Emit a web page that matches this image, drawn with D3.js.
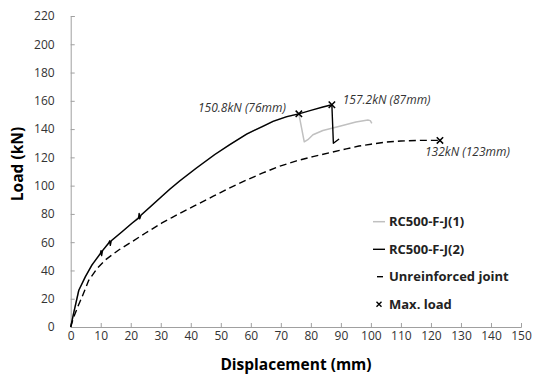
<!DOCTYPE html>
<html><head><meta charset="utf-8">
<script src="https://cdn.jsdelivr.net/npm/d3@7"></script>
<style>
html,body{margin:0;padding:0;background:#fff;}
svg{display:block;font-family:"Open Sans","Noto Sans",sans-serif;}
</style></head>
<body><svg id="c" width="534" height="379"></svg>
<script>
// Data (displacement mm, load kN)
const specimen1 = [[0,0],[1,10],[2.7,26],[4.9,35.6],[7.1,43.9],[9.9,52],[12.6,59.2],[17.1,67.4],[20.4,73.4],[23,78.5],[27,86],[30.4,92.5],[33,97.5],[36.4,103.5],[41.9,112.5],[48,122],[53,129],[58.6,136.5],[64,142],[67.4,145.5],[72,148.8],[76,150.8],
  [77.8,131],[79,132.5],[80.7,136],[84,139],[89.6,142],[95,145],[99,146.4],[99.8,146],[100.3,144]];
const specimen2 = [[0,0],[1,10],[2.7,26],[4.9,35.6],[7.1,43.9],[9.9,52],[10.1,54],[10.3,50.5],[10.6,54],[12.6,59.2],[13,61],[13.2,57.8],[13.5,61],[17.1,67.4],[20.4,73.4],[22.6,77],[22.8,80.4],[23,76.5],[23.4,79],[27,86],[30.4,92.5],[33,97.5],[36.4,103.5],[41.9,112.5],[48,122],[53,129],[58.6,136.5],[64,142],[67.4,145.5],[72,148.8],[76,150.8],[80,153.2],[84,155.6],[87,157.2],[87.5,130],[89.4,133]];
const unreinforced = [[0,0],[1,7],[2.5,15],[3.8,21.4],[6,33],[8.8,41.5],[11.5,47.4],[16,54.5],[20.4,60.3],[24.8,66.3],[30.4,73.6],[33.7,77.4],[36.4,80.5],[41,85.5],[47.5,92.5],[53,98.5],[58.6,104],[64,109],[69.7,113.8],[75.2,117.5],[80.7,120.5],[86.3,123.3],[91.8,126],[96,128],[100,129.3],[105,130.8],[110,131.6],[116,132],[123,132]];
const maxPoints = [[76,150.8],[87,157.2],[123,132]];
const maxLabels = ["150.8kN (76mm)","157.2kN (87mm)","132kN (123mm)"];
const xTicks = d3.range(0,151,10);
const yTicks = d3.range(0,221,20);
const legendNames = ["RC500-F-J(1)","RC500-F-J(2)","Unreinforced joint","Max. load"];

const svg = d3.select("#c");
const x = d3.scaleLinear().domain([0,150]).range([70.7,521]);
const y = d3.scaleLinear().domain([0,220]).range([327,16]);

const axisColor = "#a0a0a0", textColor = "#333";

const gx = svg.append("g").attr("transform","translate(0,327)")
  .call(d3.axisBottom(x).tickValues(xTicks).tickSize(-4).tickPadding(4).tickFormat(d3.format("d")));
const gy = svg.append("g").attr("transform","translate(70.7,0)")
  .call(d3.axisLeft(y).tickValues(yTicks).tickSize(-4).tickPadding(16).tickFormat(d3.format("d")));
[gx,gy].forEach(g=>{
  g.select(".domain").attr("stroke",axisColor).attr("stroke-width",1);
  g.selectAll(".tick line").attr("stroke",axisColor);
  g.selectAll(".tick text").attr("fill",textColor).style("font-size","12px").style("font-family","'Open Sans',sans-serif");
});

const line = d3.line().x(d=>x(d[0])).y(d=>y(d[1]));
svg.append("path").datum(specimen1).attr("d",line).attr("fill","none").attr("stroke","#c0c0c0").attr("stroke-width",1.5).attr("stroke-linejoin","round");
svg.append("path").datum(unreinforced).attr("d",line).attr("fill","none").attr("stroke","#000").attr("stroke-width",1.4).attr("stroke-dasharray","7,4");
svg.append("path").datum(specimen2).attr("d",line).attr("fill","none").attr("stroke","#000").attr("stroke-width",1.4).attr("stroke-linejoin","round");

const m = 3.2;
svg.selectAll(".mk").data(maxPoints).join("path").attr("class","mk")
  .attr("d",d=>{const cx=x(d[0]),cy=y(d[1]);return `M${cx-m},${cy-m}L${cx+m},${cy+m}M${cx-m},${cy+m}L${cx+m},${cy-m}`;})
  .attr("stroke","#000").attr("stroke-width",1.5);

// annotations
const annPos = [[0,112,"end"],[342.7,104,"start"],[425,156,"start"]];
svg.selectAll(".ann").data(maxPoints).join("text").attr("class","ann")
  .attr("x",(d,i)=>i===0? x(d[0])-13 : annPos[i][0])
  .attr("y",(d,i)=>annPos[i][1])
  .attr("text-anchor",(d,i)=>annPos[i][2])
  .attr("font-style","italic").attr("font-size","12px").attr("fill","#333")
  .text((d,i)=>maxLabels[i]);

// axis titles
svg.append("text").attr("x",296).attr("y",370).attr("text-anchor","middle")
  .attr("font-weight","bold").attr("font-size","15.5px").attr("fill","#000").text("Displacement (mm)");
svg.append("text").attr("transform","translate(23,164) rotate(-90)").attr("text-anchor","middle")
  .attr("font-weight","bold").attr("font-size","15.5px").attr("fill","#000").text("Load (kN)");

// legend
const lg = svg.append("g");
const ly = [221.7,249.3,276.7,304.3];
legendNames.forEach((name,i)=>{
  const yy = ly[i];
  if(i===0) lg.append("line").attr("x1",373).attr("x2",385).attr("y1",yy).attr("y2",yy).attr("stroke","#c0c0c0").attr("stroke-width",1.5);
  if(i===1) lg.append("line").attr("x1",373).attr("x2",385).attr("y1",yy).attr("y2",yy).attr("stroke","#000").attr("stroke-width",1.4);
  if(i===2) lg.append("line").attr("x1",377).attr("x2",383).attr("y1",yy).attr("y2",yy).attr("stroke","#000").attr("stroke-width",1.4);
  if(i===3) lg.append("path").attr("d",`M${379-2.5},${yy-2.5}L${379+2.5},${yy+2.5}M${379-2.5},${yy+2.5}L${379+2.5},${yy-2.5}`).attr("stroke","#000").attr("stroke-width",1.4);
  lg.append("text").attr("x",389).attr("y",yy+4.5).attr("font-weight","bold").attr("font-size","13px").attr("fill","#222").text(name);
});
</script></body></html>
